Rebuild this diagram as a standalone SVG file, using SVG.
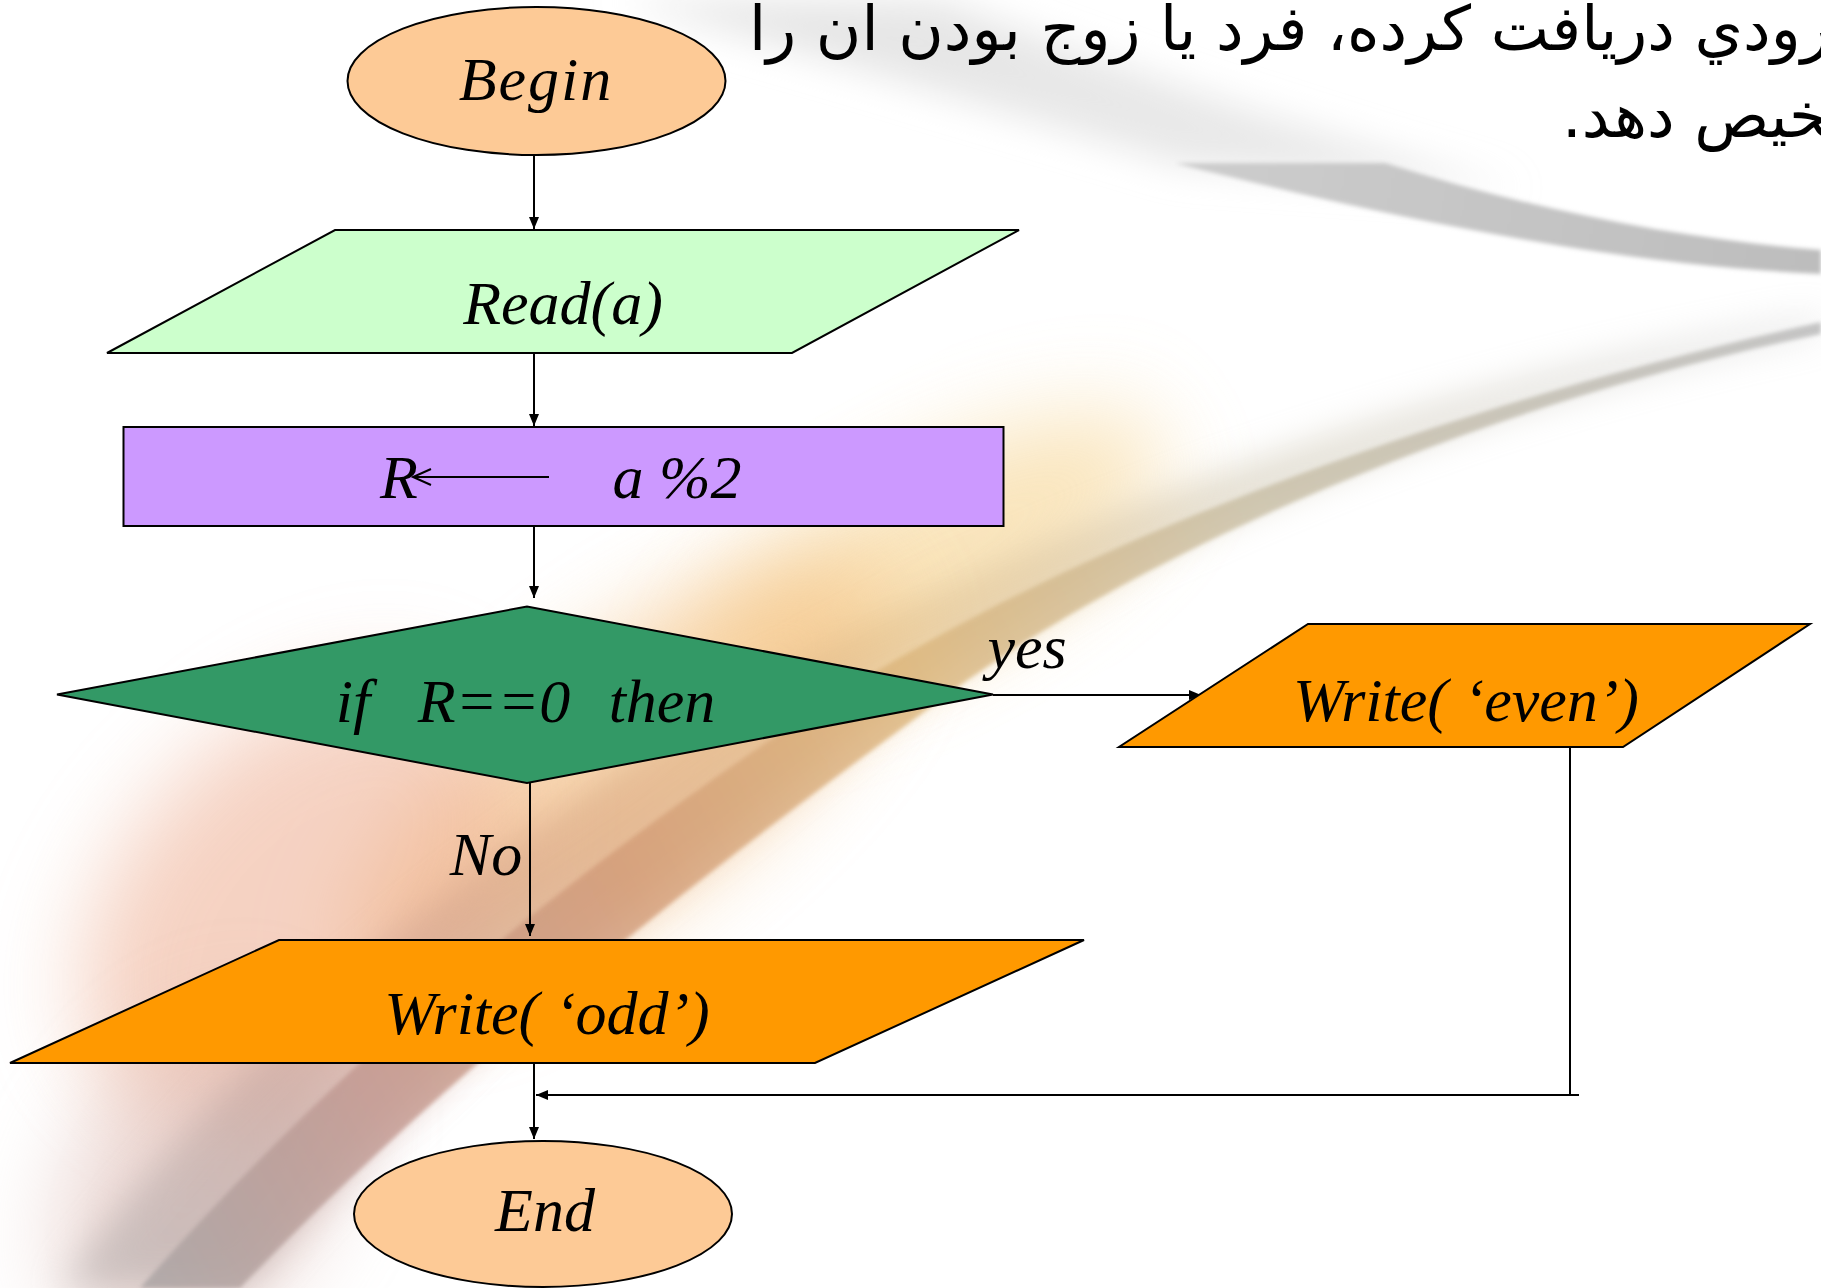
<svg xmlns="http://www.w3.org/2000/svg" width="1821" height="1288" viewBox="0 0 1821 1288">
<defs>
<style>
.node{stroke:#000;stroke-width:2}
.lbl{font-family:"Liberation Serif","Times New Roman",serif;font-style:italic;font-size:62px;fill:#000;text-anchor:middle}
.edge{stroke:#000;stroke-width:2;fill:none}
.ar{font-family:"DejaVu Sans","Noto Sans",sans-serif;font-size:62px;fill:#000}
</style>
<marker id="ah" viewBox="0 0 12 10" refX="12" refY="5" markerWidth="12" markerHeight="10" markerUnits="userSpaceOnUse" orient="auto">
<path d="M0,0 L12,5 L0,10 Z" fill="#000"/>
</marker>
<filter id="blurBig" x="-50%" y="-50%" width="200%" height="200%"><feGaussianBlur stdDeviation="45"/></filter>
<filter id="blurMid" x="-50%" y="-50%" width="200%" height="200%"><feGaussianBlur stdDeviation="18"/></filter>
<filter id="blurSm" x="-20%" y="-20%" width="140%" height="140%"><feGaussianBlur stdDeviation="2"/></filter>
<linearGradient id="bandG" x1="1821" y1="340" x2="150" y2="1288" gradientUnits="userSpaceOnUse">
<stop offset="0" stop-color="#b8b8b8"/>
<stop offset="0.3" stop-color="#c8bea4"/>
<stop offset="0.5" stop-color="#dcb67c"/>
<stop offset="0.68" stop-color="#d39c78"/>
<stop offset="0.85" stop-color="#c29890"/>
<stop offset="1" stop-color="#aaa4a4"/>
</linearGradient>
<linearGradient id="topG" x1="700" y1="0" x2="1500" y2="200" gradientUnits="userSpaceOnUse">
<stop offset="0" stop-color="#e4e4e4" stop-opacity="0.95"/>
<stop offset="1" stop-color="#dedede" stop-opacity="0.6"/>
</linearGradient>
<linearGradient id="darkG" x1="1175" y1="160" x2="1821" y2="265" gradientUnits="userSpaceOnUse">
<stop offset="0" stop-color="#cdcdcd"/>
<stop offset="1" stop-color="#bdbdbd"/>
</linearGradient>
</defs>

<g id="background">
<rect width="1821" height="1288" fill="#ffffff"/>
<path d="M620 0 L940 0 C1100 60 1300 130 1520 190 L1180 165 C1000 110 800 50 620 0 Z" fill="url(#topG)" filter="url(#blurMid)"/>
<path d="M1175 163 L1385 163 C1540 212 1690 240 1821 250 L1821 274 C1640 266 1430 228 1175 163 Z" fill="url(#darkG)" filter="url(#blurSm)"/>
<ellipse cx="930" cy="560" rx="260" ry="90" transform="rotate(-28 930 560)" fill="#f8dca4" opacity="0.75" filter="url(#blurBig)"/>
<ellipse cx="620" cy="780" rx="330" ry="120" transform="rotate(-38 620 780)" fill="#f4c286" opacity="0.65" filter="url(#blurBig)"/>
<ellipse cx="300" cy="900" rx="260" ry="170" transform="rotate(-45 300 900)" fill="#eeae92" opacity="0.55" filter="url(#blurBig)"/>
<ellipse cx="200" cy="1180" rx="180" ry="120" transform="rotate(-55 200 1180)" fill="#d8b0a8" opacity="0.5" filter="url(#blurBig)"/>
<path d="M1821 330 C1480 400 1120 540 880 720 C640 900 420 1080 250 1288 L60 1288 C230 1050 470 850 760 680 C1060 510 1450 380 1821 318 Z" fill="url(#bandG)" opacity="0.5" filter="url(#blurMid)"/>
<path d="M1821 334 C1500 400 1140 545 920 715 C680 890 440 1080 240 1288 L140 1288 C340 1060 570 870 830 700 C1095 530 1470 400 1821 322 Z" fill="url(#bandG)" opacity="0.8" filter="url(#blurSm)"/>
</g>

<g id="title">
<text class="ar" x="749" y="50" direction="rtl" text-anchor="end">ورودي دريافت كرده، فرد يا زوج بودن ان را</text>
<text class="ar" x="1562" y="137" direction="rtl" text-anchor="end">تشخيص دهد.</text>
</g>

<g id="connectors">
<line class="edge" x1="534" y1="155" x2="534" y2="229" marker-end="url(#ah)"/>
<line class="edge" x1="534" y1="353" x2="534" y2="426" marker-end="url(#ah)"/>
<line class="edge" x1="534" y1="526" x2="534" y2="598" marker-end="url(#ah)"/>
<line class="edge" x1="530" y1="783" x2="530" y2="936" marker-end="url(#ah)"/>
<line class="edge" x1="993" y1="695" x2="1201" y2="695" marker-end="url(#ah)"/>
<line class="edge" x1="534" y1="1063" x2="534" y2="1139" marker-end="url(#ah)"/>
<polyline class="edge" points="1570,747 1570,1095"/>
<line class="edge" x1="1579" y1="1095" x2="536" y2="1095" marker-end="url(#ah)"/>
<text class="lbl" x="1027" y="668" font-size="58">yes</text>
<text class="lbl" x="486" y="875" font-size="58">No</text>
</g>

<g id="begin">
<ellipse class="node" cx="536.5" cy="81" rx="189" ry="74" fill="#fdca96"/>
<text class="lbl" x="536" y="100" font-size="60" letter-spacing="2">Begin</text>
</g>

<g id="read">
<polygon class="node" points="335,230 1019,230 792,353 107,353" fill="#ccffcc"/>
<text class="lbl" x="563" y="324">Read(a)</text>
</g>

<g id="assign">
<rect class="node" x="123.5" y="427" width="880" height="99" fill="#cc99ff"/>
<text class="lbl" x="399" y="498">R</text>
<line x1="413" y1="477" x2="549" y2="477" stroke="#000" stroke-width="2"/>
<polyline points="431,469 413,477 431,485" fill="none" stroke="#000" stroke-width="2"/>
<text class="lbl" x="677" y="498">a %2</text>
</g>

<g id="decision">
<polygon class="node" points="57,694.5 527,606.5 993,694.5 527,783" fill="#339966"/>
<text class="lbl" y="722"><tspan x="353">if</tspan><tspan x="494">R==0</tspan><tspan x="662">then</tspan></text>
</g>

<g id="write-even">
<polygon class="node" points="1308,624 1810,624 1623,747 1119,747" fill="#ff9900"/>
<text class="lbl" x="1466" y="721" font-size="60">Write( ‘even’)</text>
</g>

<g id="write-odd">
<polygon class="node" points="279,940 1084,940 815,1063 10,1063" fill="#ff9900"/>
<text class="lbl" x="547" y="1034" font-size="60">Write( ‘odd’)</text>
</g>

<g id="end">
<ellipse class="node" cx="543" cy="1214" rx="189" ry="73" fill="#fdca96"/>
<text class="lbl" x="545" y="1231" font-size="60">End</text>
</g>
</svg>
